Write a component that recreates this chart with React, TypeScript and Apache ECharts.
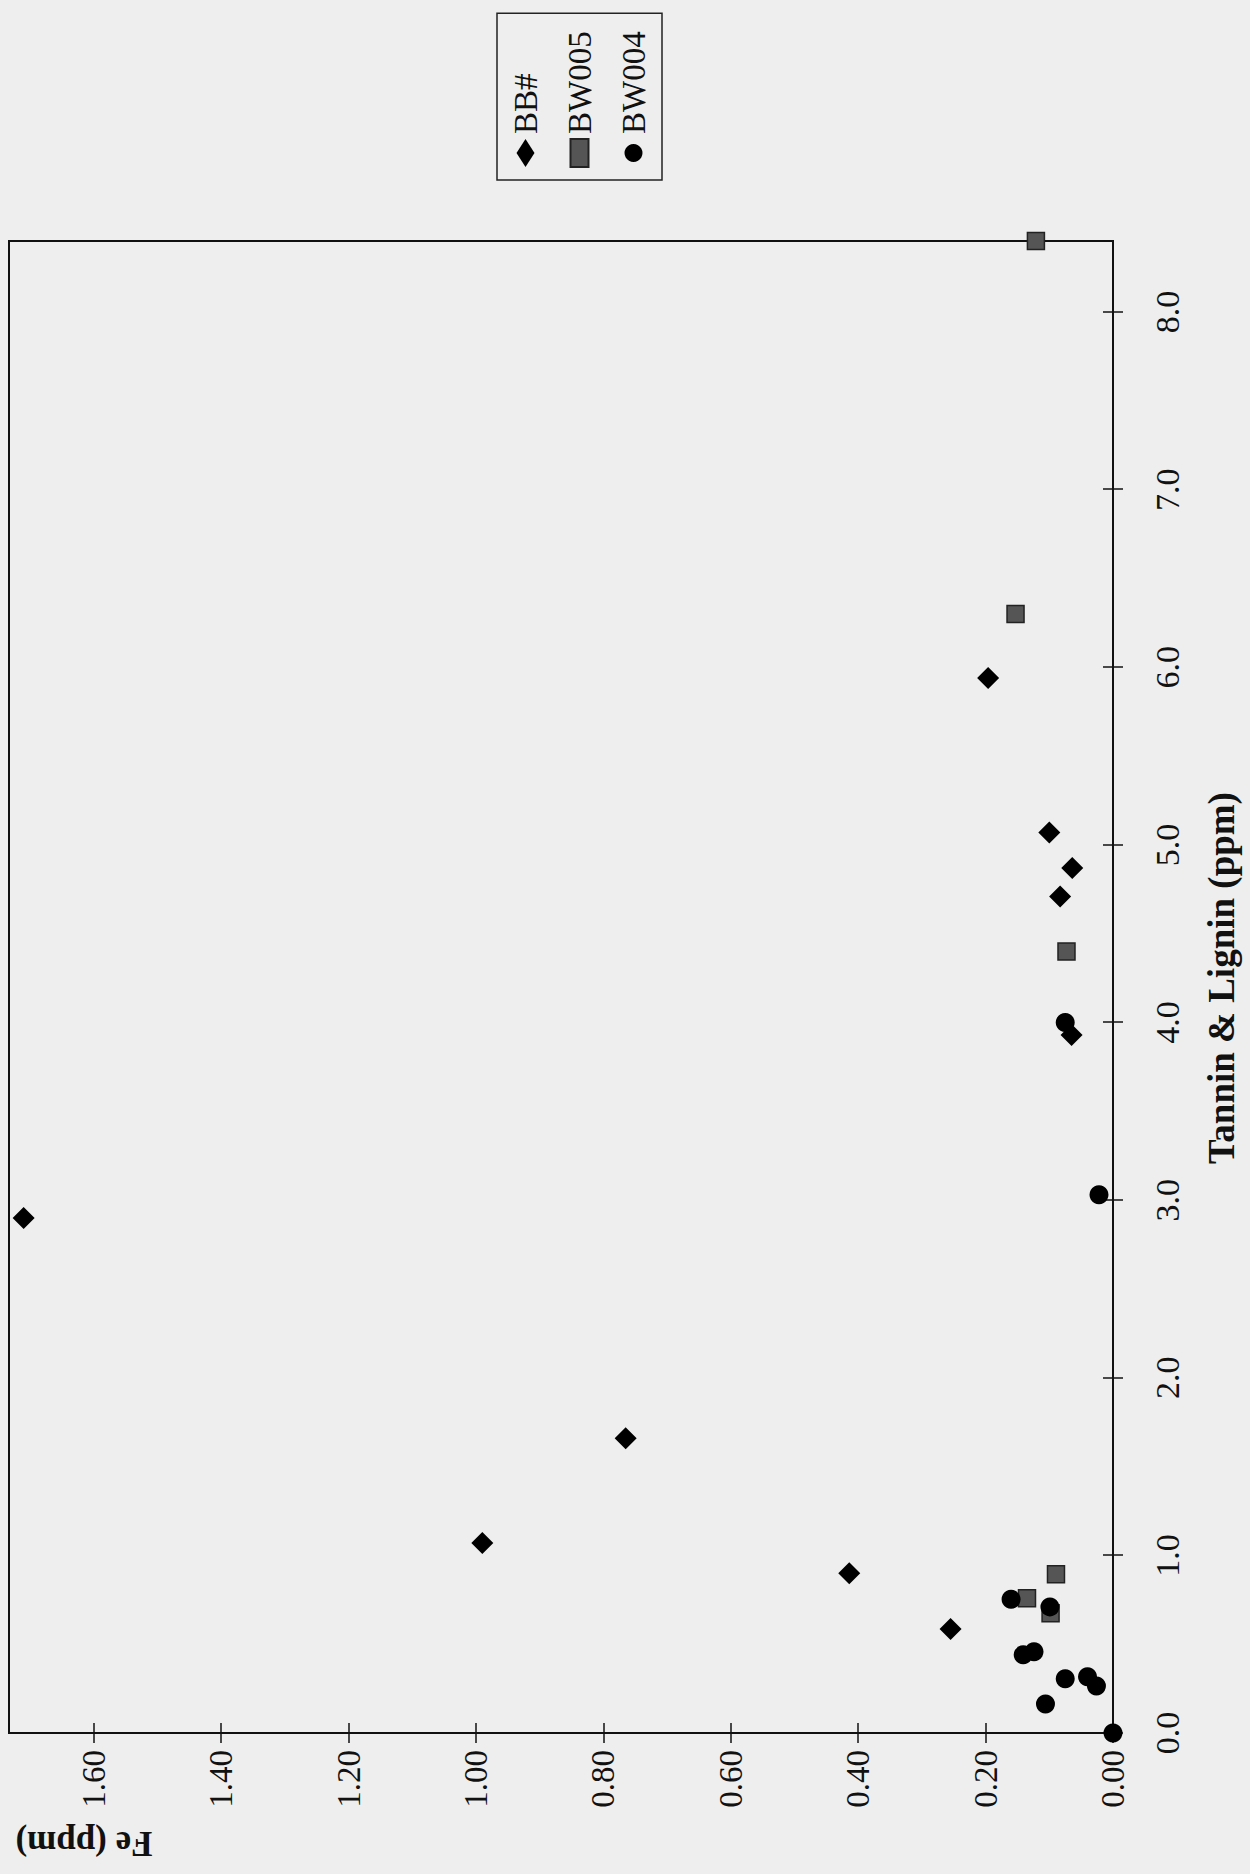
import { useEffect, useRef } from 'react';
import * as echarts from 'echarts';

// Tannin & Lignin (ppm) vs Fe (ppm)
const seriesNames = ['BB#', 'BW005', 'BW004'];

const bbTannin = [2.90, 1.07, 1.66, 0.90, 0.585, 5.94, 5.07, 4.87, 4.71, 3.93];
const bbFe = [1.71, 0.99, 0.765, 0.414, 0.255, 0.196, 0.10, 0.064, 0.083, 0.065];

const bw005Tannin = [8.4, 6.30, 4.40, 0.894, 0.758, 0.674];
const bw005Fe = [0.121, 0.153, 0.073, 0.0895, 0.135, 0.098];

const bw004Tannin = [4.0, 3.03, 0.753, 0.71, 0.44, 0.458, 0.306, 0.317, 0.265, 0.163, 0.0];
const bw004Fe = [0.075, 0.022, 0.16, 0.099, 0.141, 0.124, 0.075, 0.040, 0.026, 0.106, 0.0];

const xTitle = 'Tannin & Lignin (ppm)';
const yTitle = 'Fe (ppm)';

const zip = (a: number[], b: number[]) => a.map((v, i) => [v, b[i]]);

const FONT = "'Liberation Serif', 'Times New Roman', serif";

export default function App() {
  const ref = useRef<HTMLDivElement>(null);
  useEffect(() => {
    const chart = echarts.init(ref.current!, null, { renderer: 'svg', width: 1874, height: 1250 });
    const axisBase = {
      type: 'value' as const,
      splitLine: { show: false },
    };
    chart.setOption({
      animation: false,
      backgroundColor: 'transparent',
      textStyle: { fontFamily: FONT, color: '#000' },
      grid: {
        left: 141,
        right: 241,
        top: 9,
        bottom: 137,
        show: true,
        borderColor: '#111',
        borderWidth: 2,
        backgroundColor: 'transparent',
      },
      legend: {
        orient: 'vertical',
        left: 1694,
        top: 497,
        data: seriesNames,
        borderColor: '#222',
        borderWidth: 1.5,
        padding: [12, 18, 12, 12],
        itemWidth: 28,
        itemHeight: 18,
        itemGap: 21,
        textStyle: { fontFamily: FONT, fontSize: 33, color: '#111' },
      },
      xAxis: [
        {
          ...axisBase,
          min: 0,
          max: 8.4,
          interval: 1,
          position: 'bottom',
          name: xTitle,
          nameLocation: 'middle',
          nameGap: 90,
          nameTextStyle: {
            fontFamily: FONT,
            fontSize: 37,
            fontWeight: 'bold',
            color: '#111',
            padding: [0, 0, 0, 18],
          },
          axisLine: { show: true, lineStyle: { color: '#111', width: 2 } },
          axisTick: { show: true, inside: false, length: 10, lineStyle: { color: '#111', width: 1.5 } },
          axisLabel: {
            show: true,
            margin: 37,
            fontSize: 34,
            fontFamily: FONT,
            color: '#111',
            showMaxLabel: false,
            formatter: (v: number) => v.toFixed(1),
          },
        },
        {
          ...axisBase,
          min: 0,
          max: 8.4,
          interval: 1,
          position: 'bottom',
          axisLine: { show: false },
          axisTick: { show: true, inside: true, length: 10, lineStyle: { color: '#111', width: 1.5 } },
          axisLabel: { show: false },
        },
      ],
      yAxis: [
        {
          ...axisBase,
          min: 0,
          max: 1.733,
          interval: 0.2,
          position: 'left',
          axisLine: { show: true, lineStyle: { color: '#111', width: 2 } },
          axisTick: { show: true, inside: false, length: 10, lineStyle: { color: '#111', width: 1.5 } },
          axisLabel: {
            show: true,
            margin: 17,
            fontSize: 33,
            fontFamily: FONT,
            color: '#111',
            showMaxLabel: false,
            formatter: (v: number) => v.toFixed(2),
          },
        },
        {
          ...axisBase,
          min: 0,
          max: 1.733,
          interval: 0.2,
          position: 'left',
          axisLine: { show: false },
          axisTick: { show: true, inside: true, length: 10, lineStyle: { color: '#111', width: 1.5 } },
          axisLabel: { show: false },
        },
      ],
      graphic: [
        {
          type: 'text',
          x: 31,
          y: 84,
          rotation: Math.PI / 2,
          style: {
            text: yTitle,
            align: 'center',
            verticalAlign: 'middle',
            fill: '#111',
            font: `bold 35px ${FONT}`,
          },
        },
      ],
      series: [
        {
          name: seriesNames[0],
          type: 'scatter',
          symbol: 'diamond',
          symbolSize: 22,
          itemStyle: { color: '#000', opacity: 1 },
          data: zip(bbTannin, bbFe),
          z: 3,
        },
        {
          name: seriesNames[1],
          type: 'scatter',
          symbol: 'rect',
          symbolSize: 17,
          itemStyle: { color: '#555', borderColor: '#222', borderWidth: 1.5, opacity: 1 },
          data: zip(bw005Tannin, bw005Fe),
          z: 2,
        },
        {
          name: seriesNames[2],
          type: 'scatter',
          symbol: 'circle',
          symbolSize: 19,
          itemStyle: { color: '#000', opacity: 1 },
          data: zip(bw004Tannin, bw004Fe),
          z: 4,
        },
      ],
    });
    return () => chart.dispose();
  }, []);
  return (
    <div
      style={{
        position: 'fixed',
        left: 0,
        top: 0,
        width: 1250,
        height: 1874,
        overflow: 'hidden',
        background: '#eeeeee',
      }}
    >
      <div
        ref={ref}
        style={{
          position: 'absolute',
          left: 0,
          top: 0,
          width: 1874,
          height: 1250,
          transformOrigin: '0 0',
          transform: 'translateY(1874px) rotate(-90deg)',
        }}
      />
    </div>
  );
}
